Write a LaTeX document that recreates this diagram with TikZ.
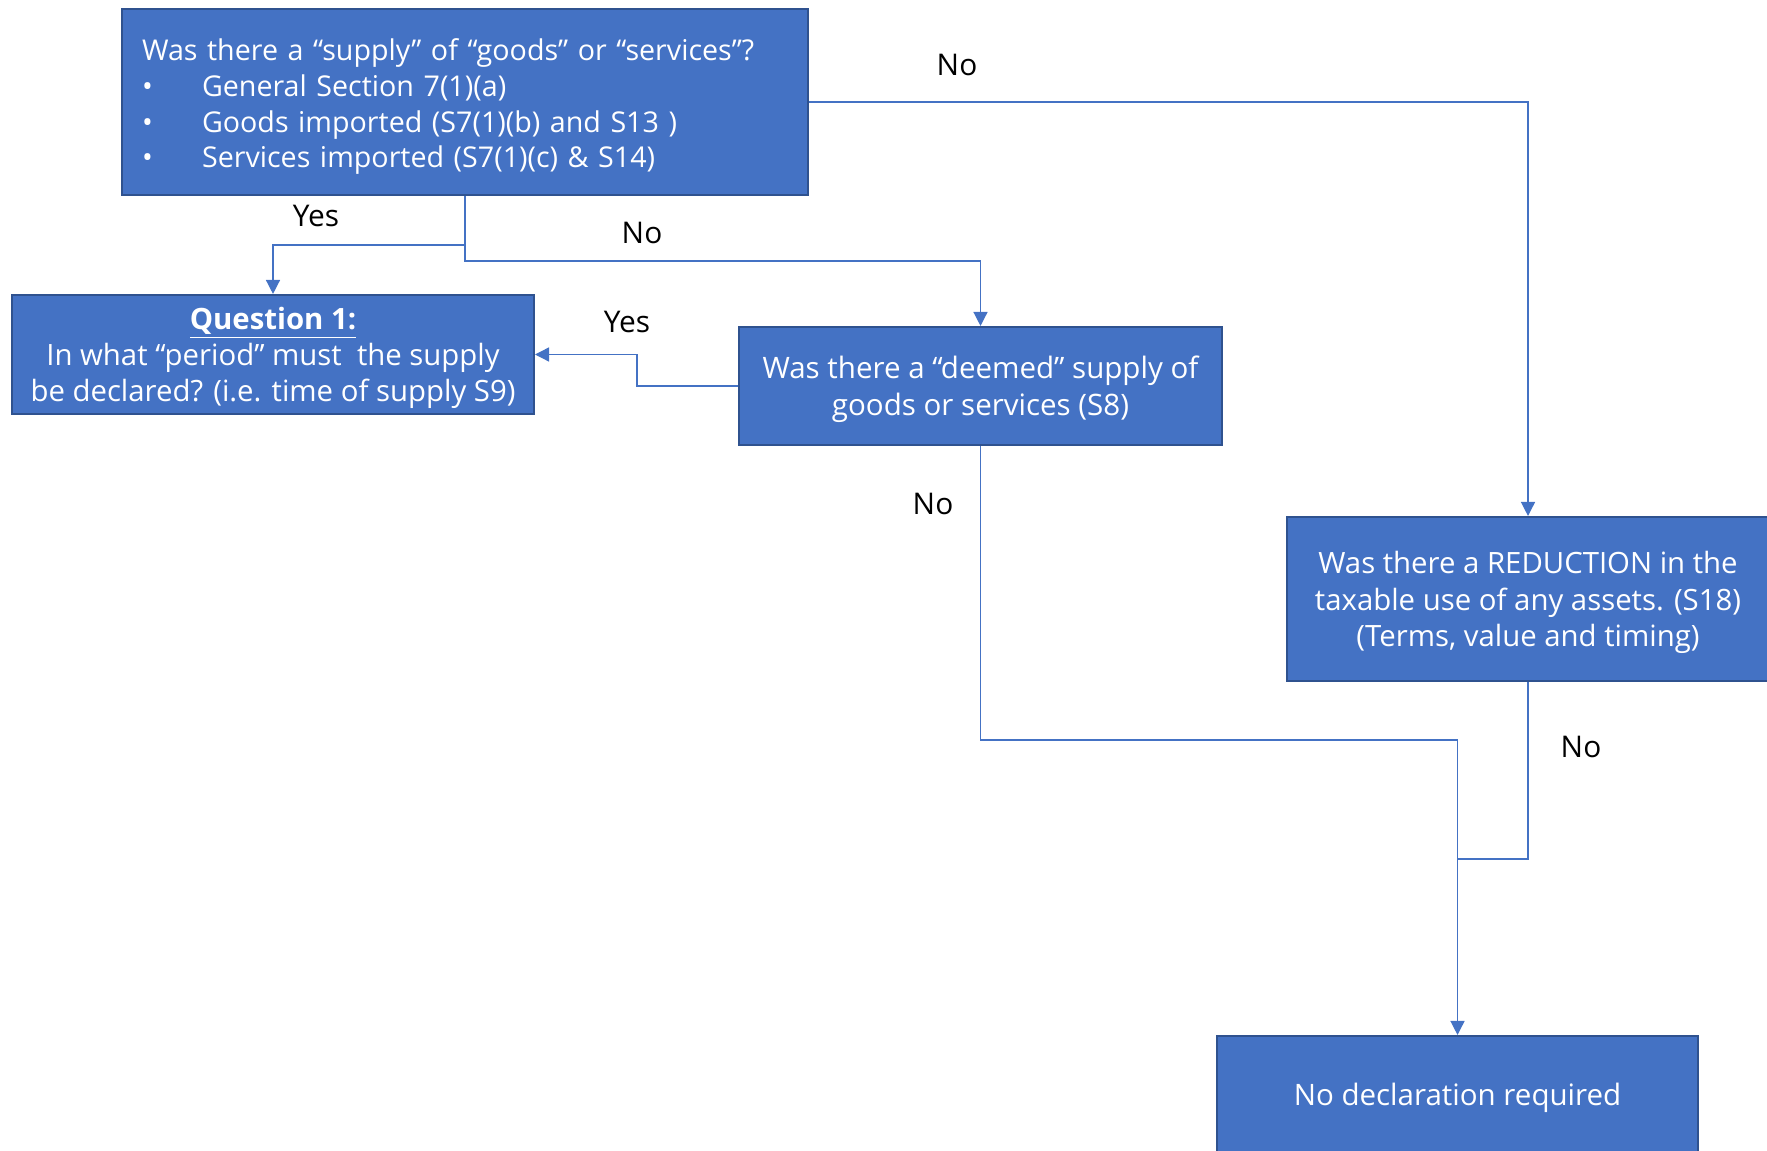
\documentclass[tikz,border=0pt]{standalone}
\usepackage{fontspec}
\setmainfont{Open Sans}
\usetikzlibrary{arrows.meta}
\definecolor{boxblue}{HTML}{4472C4}
\definecolor{boxedge}{HTML}{2F528F}
\newcommand{\boxstrut}[1]{\rule{0pt}{#1em}}

\begin{document}
\begin{tikzpicture}[x=0.02cm, y=-0.02cm,
    qbox/.style={draw=boxedge, line width=1.2pt, fill=boxblue, text=white,
        align=center, inner sep=0pt, font=\fontsize{16.8}{21}\selectfont},
    flow/.style={draw=boxblue, line width=0.8pt},
    arr/.style={flow, -{Triangle[width=8pt,length=8pt]}},
    lbl/.style={font=\fontsize{17}{21}\selectfont}]

        % Page frame
        \useasboundingbox (0,0) rectangle (1767,1151);

        % Decision boxes
        \node[qbox, minimum width=13.72cm, minimum height=3.72cm, text width=12.92cm,
              inner xsep=0.4cm, align=left, font=\fontsize{16.3}{20.3}\selectfont]
              (supply) at (465,102)
              {\boxstrut{1.1}Was there a “supply” of “goods” or “services”?\\
               \makebox[1.2cm][l]{•}General Section 7(1)(a)\\
               \makebox[1.2cm][l]{•}Goods imported (S7(1)(b) and S13 )\\
               \makebox[1.2cm][l]{•}Services imported (S7(1)(c) \& S14)};
        \node[qbox, minimum width=10.44cm, minimum height=2.38cm,
              font=\fontsize{16.7}{20.3}\selectfont]
              (quest) at (273,354.5)
              {\boxstrut{1}\underline{\textbf{Question 1:}}\\
               In what “period” must\ \ the supply\\
               be declared? (i.e. time of supply S9)};
        \node[qbox, minimum width=9.66cm, minimum height=2.36cm]
              (deemed) at (980.5,386)
              {\boxstrut{1}Was there a “deemed” supply of\\ goods or services (S8)};
        \node[qbox, minimum width=9.64cm, minimum height=3.28cm,
              font=\fontsize{16.7}{20.6}\selectfont]
              (reduct) at (1528,599)
              {\boxstrut{1}Was there a REDUCTION in the\\ taxable use of any assets. (S18)\\ (Terms, value and timing)};
        \node[qbox, minimum width=9.62cm, minimum height=2.36cm]
              (nodecl) at (1457.5,1095)
              {\boxstrut{0.95}No declaration required};

        % Bend points of the connectors
        \coordinate (splitA) at (465,245);   % Yes branch
        \coordinate (splitB) at (465,261);   % No branch
        \coordinate (jog) at (637,370);      % deemed -> question
        \coordinate (mergeA) at (1457.5,740);  % deemed No
        \coordinate (mergeB) at (1457.5,859);  % reduction No

        % Connectors
        \draw[flow] (supply.south) -- (splitA);
        \draw[arr] (splitA) -| (quest.north);
        \draw[arr] (splitA) -- (splitB) -| (deemed.north);
        \draw[arr] (supply.east) -| (reduct.north);
        \draw[arr] (deemed.west) -| (jog) |- (quest.east);
        \draw[arr] (deemed.south) |- (mergeA) -- (nodecl.north);
        \draw[flow] (reduct.south) |- (mergeB);

        % Yes / No labels
        \node[lbl] (noA) at (957,65) {No};
        \node[lbl] (yesA) at (316,216) {Yes};
        \node[lbl] (noB) at (642,233) {No};
        \node[lbl] (yesB) at (627,322) {Yes};
        \node[lbl] (noC) at (933,504) {No};
        \node[lbl] (noD) at (1581,747) {No};

\end{tikzpicture}
\end{document}
